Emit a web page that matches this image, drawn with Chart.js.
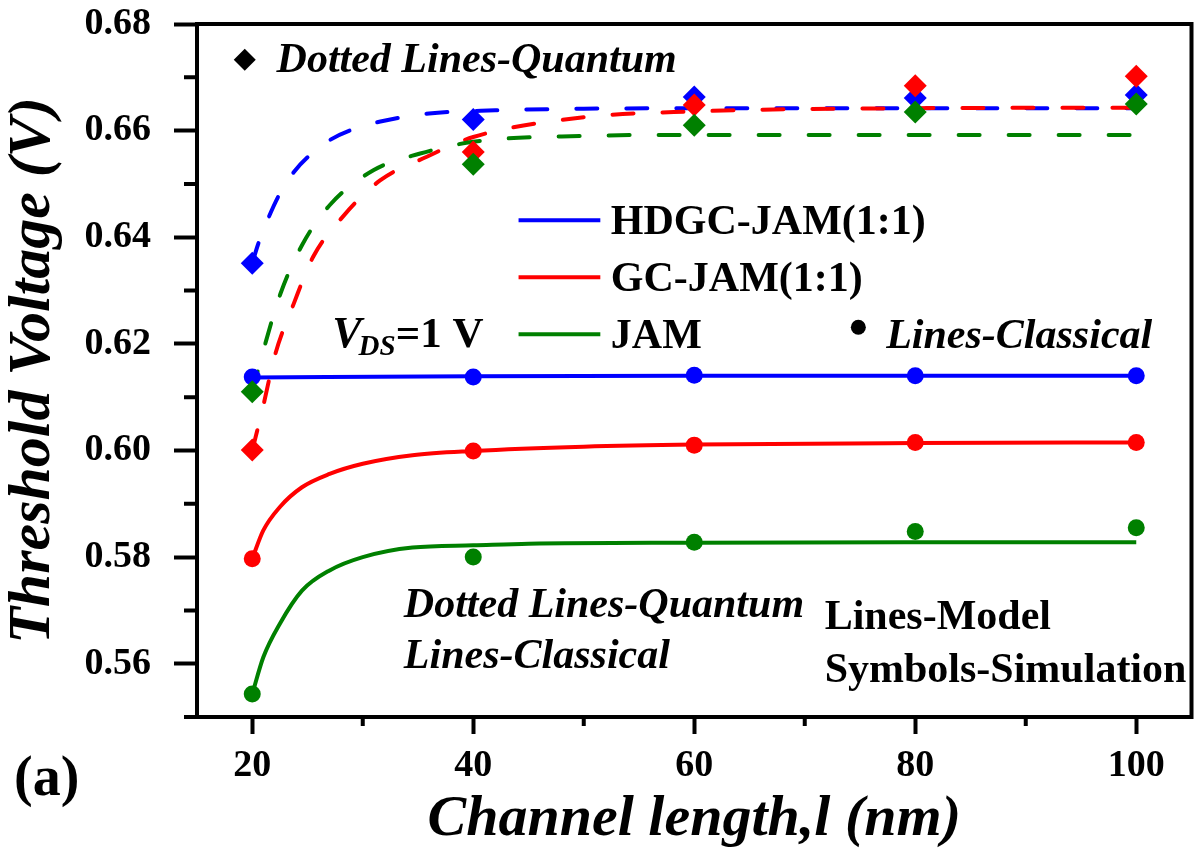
<!DOCTYPE html>
<html>
<head>
<meta charset="utf-8">
<script src="https://cdn.jsdelivr.net/npm/chart.js@4.4.1/dist/chart.umd.min.js"></script>
<style>
  html, body { margin: 0; padding: 0; background: #ffffff; }
  canvas { display: block; }
</style>
</head>
<body>
<canvas id="vthChart" width="1203" height="854"></canvas>
<script>
// ---- Simulated devices (symbols) ----
const simLength = [20, 40, 60, 80, 100];                         // channel length (nm)

const simClassicalHDGC = [0.6138, 0.6138, 0.6141, 0.6140, 0.6140]; // V
const simClassicalGC   = [0.5797, 0.5999, 0.6010, 0.6015, 0.6015];
const simClassicalJAM  = [0.5543, 0.5800, 0.5828, 0.5848, 0.5855];

const simQuantumHDGC = [0.6351, 0.6621, 0.6663, 0.6661, 0.6667];
const simQuantumGC   = [0.6001, 0.6560, 0.6648, 0.6684, 0.6702];
const simQuantumJAM  = [0.6110, 0.6537, 0.6610, 0.6635, 0.6650];

// ---- Analytical model (lines) ----
const modelClassicalHDGC_L = [20, 40, 60, 80, 100];
const modelClassicalHDGC_V = [0.6137, 0.6139, 0.6140, 0.6140, 0.6140];

const modelClassicalGC_L = [20, 21, 22.5, 24.5, 27, 30, 34.5, 40, 50, 60, 80, 100];
const modelClassicalGC_V = [0.5797, 0.5850, 0.5894, 0.5931, 0.5956, 0.5975, 0.5991, 0.5999, 0.6007, 0.6011, 0.6014, 0.6015];

const modelClassicalJAM_L = [20, 21, 22.5, 24.5, 27, 30, 34.5, 40, 45, 60, 80, 100];
const modelClassicalJAM_V = [0.5543, 0.5612, 0.5675, 0.5737, 0.5775, 0.5800, 0.5818, 0.5822, 0.5825, 0.5827, 0.5828, 0.5828];

const modelQuantumHDGC_L = [20, 20.5, 21.5, 22.5, 23.75, 25, 27, 29.2, 31.6, 36, 42, 50, 60, 80, 100];
const modelQuantumHDGC_V = [0.6351, 0.6385, 0.6438, 0.6482, 0.6522, 0.6550, 0.6582, 0.6603, 0.6617, 0.6632, 0.6638, 0.6641, 0.6642, 0.6642, 0.6642];

const modelQuantumGC_L = [20, 20.9, 22.1, 23.75, 25.5, 28.3, 31.6, 35.8, 40, 50, 60, 80, 100];
const modelQuantumGC_V = [0.6000, 0.6075, 0.6182, 0.6275, 0.6363, 0.6441, 0.6507, 0.6551, 0.6588, 0.6625, 0.6636, 0.6642, 0.6643];

const modelQuantumJAM_L = [20, 21.05, 22.55, 24.5, 27, 31, 35.2, 40, 50, 60, 80, 100];
const modelQuantumJAM_V = [0.6110, 0.6191, 0.6294, 0.6385, 0.6460, 0.6526, 0.6557, 0.6579, 0.6590, 0.6592, 0.6592, 0.6592];

// ---- Axes ----
const xTicks = [20, 40, 60, 80, 100];
const xMinorTicks = [30, 50, 70, 90];
const yTicks = [0.56, 0.58, 0.60, 0.62, 0.64, 0.66, 0.68];
const yMinorTicks = [0.55, 0.57, 0.59, 0.61, 0.63, 0.65, 0.67];

const legendNames = ['HDGC-JAM(1:1)', 'GC-JAM(1:1)', 'JAM'];

const BLUE = '#0000ff', RED = '#ff0000', GREEN = '#008000';
const SERIF = '"Liberation Serif", "Times New Roman", serif';

const pts = (xs, ys) => xs.map((x, i) => ({ x: x, y: ys[i] }));

function modelLine(label, xs, ys, color, dashed, order) {
  return {
    label, data: pts(xs, ys), borderColor: color, backgroundColor: color,
    borderWidth: 4, borderDash: dashed ? [21, 29] : [], borderCapStyle: dashed ? 'round' : 'butt',
    pointRadius: 0, cubicInterpolationMode: 'monotone', fill: false, order
  };
}
function simPoints(label, ys, color, style, radius, order) {
  return {
    label, data: pts(simLength, ys), showLine: false, pointStyle: style,
    pointRadius: radius, pointBackgroundColor: color, pointBorderColor: color,
    pointBorderWidth: 0, borderColor: color, backgroundColor: color, order
  };
}

const datasets = [
  simPoints('JAM quantum (sim)', simQuantumJAM, GREEN, 'rectRot', 11.5, 1),
  simPoints('GC-JAM quantum (sim)', simQuantumGC, RED, 'rectRot', 11.5, 2),
  simPoints('HDGC-JAM quantum (sim)', simQuantumHDGC, BLUE, 'rectRot', 11.5, 3),
  simPoints('JAM classical (sim)', simClassicalJAM, GREEN, 'circle', 8.5, 4),
  simPoints('GC-JAM classical (sim)', simClassicalGC, RED, 'circle', 8.5, 5),
  simPoints('HDGC-JAM classical (sim)', simClassicalHDGC, BLUE, 'circle', 8.5, 6),
  modelLine('JAM quantum', modelQuantumJAM_L, modelQuantumJAM_V, GREEN, true, 7),
  modelLine('GC-JAM quantum', modelQuantumGC_L, modelQuantumGC_V, RED, true, 8),
  modelLine('HDGC-JAM quantum', modelQuantumHDGC_L, modelQuantumHDGC_V, BLUE, true, 9),
  modelLine('JAM classical', modelClassicalJAM_L, modelClassicalJAM_V, GREEN, false, 10),
  modelLine('GC-JAM classical', modelClassicalGC_L, modelClassicalGC_V, RED, false, 11),
  modelLine('HDGC-JAM classical', modelClassicalHDGC_L, modelClassicalHDGC_V, BLUE, false, 12)
];

// White page behind the canvas
const backgroundPlugin = {
  id: 'background',
  beforeDraw(chart) {
    const ctx = chart.ctx;
    ctx.save();
    ctx.fillStyle = '#ffffff';
    ctx.fillRect(0, 0, chart.width, chart.height);
    ctx.restore();
  }
};

// Closed frame and minor tick marks
const framePlugin = {
  id: 'frame',
  afterDraw(chart) {
    const { ctx, chartArea: a, scales: { x, y } } = chart;
    ctx.save();
    ctx.strokeStyle = '#000';
    ctx.lineWidth = 4;
    ctx.lineCap = 'butt';
    ctx.beginPath();
    ctx.moveTo(a.left, a.top);
    ctx.lineTo(a.right, a.top);
    ctx.lineTo(a.right, a.bottom + 2);
    ctx.stroke();
    ctx.beginPath();
    xMinorTicks.forEach(v => {
      const px = x.getPixelForValue(v);
      ctx.moveTo(px, a.bottom);
      ctx.lineTo(px, a.bottom + 9);
    });
    yMinorTicks.forEach(v => {
      const py = y.getPixelForValue(v);
      ctx.moveTo(a.left - 13, py);
      ctx.lineTo(a.left, py);
    });
    ctx.stroke();
    ctx.restore();
  }
};

// In-plot notes and line legend
const notesPlugin = {
  id: 'notes',
  afterDraw(chart) {
    const { ctx, scales: { x, y } } = chart;
    const X = v => x.getPixelForValue(v);
    const Y = v => y.getPixelForValue(v);
    const bi = s => 'italic bold ' + s + 'px ' + SERIF;
    const b = s => 'bold ' + s + 'px ' + SERIF;
    ctx.save();
    ctx.fillStyle = '#000';
    ctx.textBaseline = 'alphabetic';
    ctx.textAlign = 'left';

    // diamond key, upper left
    const dx = X(19.32), dy = Y(0.6733), r = 11;
    ctx.beginPath();
    ctx.moveTo(dx, dy - r); ctx.lineTo(dx + r, dy); ctx.lineTo(dx, dy + r); ctx.lineTo(dx - r, dy);
    ctx.closePath(); ctx.fill();
    ctx.font = bi(42);
    ctx.fillText('Dotted Lines-Quantum', X(22.2), Y(0.6710));

    // line legend
    const colors = [BLUE, RED, GREEN];
    const rows = [0.6432, 0.6325, 0.6218];
    legendNames.forEach((name, i) => {
      const ly = Y(rows[i]);
      ctx.strokeStyle = colors[i];
      ctx.lineWidth = 4;
      ctx.beginPath();
      ctx.moveTo(X(44.1), ly); ctx.lineTo(X(51.5), ly);
      ctx.stroke();
      ctx.font = b(42);
      ctx.fillText(name, X(52.45), ly + 14);
    });

    // V_DS = 1 V
    let tx = X(27.24); const ty = Y(0.6194);
    ctx.font = bi(44);
    ctx.fillText('V', tx, ty);
    tx += ctx.measureText('V').width - 3;
    ctx.font = bi(29);
    ctx.fillText('DS', tx, ty + 8);
    tx += ctx.measureText('DS').width;
    ctx.font = b(43);
    ctx.fillText('=1 V', tx, ty);

    // circle key, right
    ctx.beginPath();
    ctx.arc(X(74.85), Y(0.6231), 7.5, 0, Math.PI * 2);
    ctx.fill();
    ctx.font = bi(42);
    ctx.fillText('Lines-Classical', X(77.37), Y(0.6192));

    // lower notes
    ctx.font = bi(42);
    ctx.fillText('Dotted Lines-Quantum', X(33.72), Y(0.5687));
    ctx.fillText('Lines-Classical', X(33.72), Y(0.5591));
    ctx.font = b(42);
    ctx.fillText('Lines-Model', X(71.8), Y(0.5666));
    ctx.fillText('Symbols-Simulation', X(71.8), Y(0.5565));

    // panel tag
    ctx.font = b(56);
    ctx.fillText('(a)', 14, 795);
    ctx.restore();
  }
};

new Chart(document.getElementById('vthChart'), {
  type: 'line',
  data: { datasets },
  options: {
    responsive: false,
    animation: false,
    devicePixelRatio: 1,
    layout: { padding: { top: 24, right: 6, bottom: 0, left: 0 } },
    plugins: { legend: { display: false }, tooltip: { enabled: false } },
    scales: {
      x: {
        type: 'linear', min: 15, max: 105,
        afterBuildTicks: s => { s.ticks = xTicks.map(v => ({ value: v })); },
        afterFit: s => { s.height = 137; s.paddingLeft = 0; s.paddingRight = 0; },
        grid: { drawOnChartArea: false, drawTicks: true, tickLength: 17, tickWidth: 4, tickColor: '#000' },
        border: { display: true, color: '#000', width: 4 },
        ticks: {
          color: '#000', padding: 9, maxRotation: 0, autoSkip: false,
          font: { family: SERIF, size: 38, weight: 'bold' },
          callback: v => String(v)
        },
        title: {
          display: true, text: 'Channel length,l (nm)', color: '#000',
          padding: { top: 0, bottom: 2 },
          font: { family: SERIF, size: 58, weight: 'bold', style: 'italic', lineHeight: 1.1 }
        }
      },
      y: {
        type: 'linear', min: 0.55, max: 0.68,
        afterBuildTicks: s => { s.ticks = yTicks.map(v => ({ value: v })); },
        afterFit: s => { s.width = 197; s.paddingTop = 0; s.paddingBottom = 0; },
        grid: { drawOnChartArea: false, drawTicks: true, tickLength: 23, tickWidth: 4, tickColor: '#000' },
        border: { display: true, color: '#000', width: 4 },
        ticks: {
          color: '#000', padding: 23, autoSkip: false,
          font: { family: SERIF, size: 38, weight: 'bold' },
          callback: v => v.toFixed(2)
        },
        title: {
          display: true, text: 'Threshold Voltage (V)', color: '#000',
          padding: { top: 0, bottom: 0 },
          font: { family: SERIF, size: 60, weight: 'bold', style: 'italic', lineHeight: 1.1 }
        }
      }
    }
  },
  plugins: [backgroundPlugin, framePlugin, notesPlugin]
});
</script>
</body>
</html>
